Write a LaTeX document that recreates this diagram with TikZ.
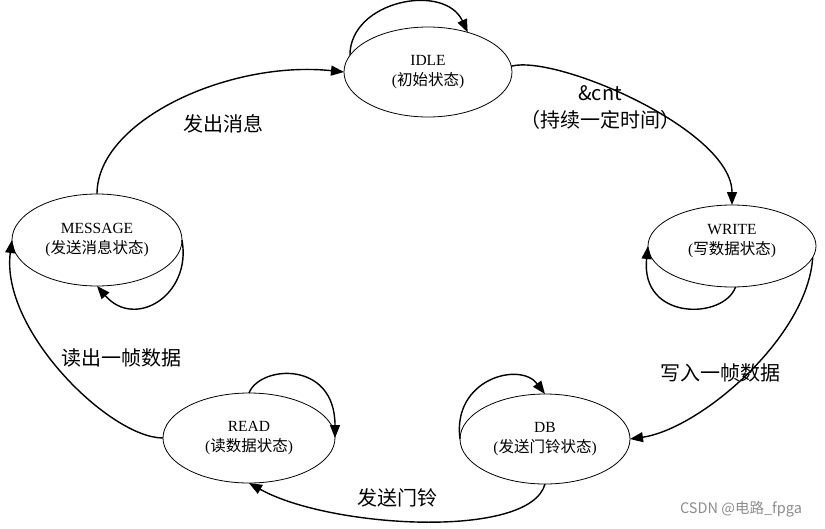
\documentclass[tikz,border=0pt]{standalone}
\usepackage{fontspec}
\setmainfont{Liberation Serif}
\newfontfamily\cjk{Noto Sans CJK SC}
\usetikzlibrary{shapes.geometric,arrows.meta}
\begin{document}
\begin{tikzpicture}[x=1pt,y=1pt,
  state/.style={draw, ellipse, line width=0.8pt, inner sep=0pt, outer sep=0pt,
    align=center, font=\fontsize{15.5}{20}\selectfont},
  conn/.style={line width=1.4pt, -{Triangle[length=13pt,width=10pt]}},
  lbl/.style={font=\cjk\fontsize{20}{27}\selectfont, align=center, inner sep=0pt},
  wmark/.style={font=\cjk\fontsize{14.5}{18}\selectfont, text=black!45, inner sep=0pt}]
\useasboundingbox (0,0) rectangle (825,-528);
% states
\node[state, minimum width=168pt, minimum height=90pt] (idle) at (428,-72) {IDLE\\({\cjk 初始状态})};
\node[state, minimum width=168pt, minimum height=82pt] (write) at (732,-246) {};
\node[font=\fontsize{15.5}{20}\selectfont, align=center, inner sep=0pt] (writetext) at (732,-241) {WRITE\\({\cjk 写数据状态})};
\node[state, minimum width=170pt, minimum height=90pt] (db) at (545,-439) {DB\\({\cjk 发送门铃状态})};
\node[state, minimum width=172pt, minimum height=90pt] (read) at (249,-438) {READ\\({\cjk 读数据状态})};
\node[state, minimum width=170pt, minimum height=92pt] (msg) at (97,-240) {MESSAGE\\({\cjk 发送消息状态})};
% transitions
\draw[conn] (idle.4) .. controls +(45,12) and +(0,75) .. (write.north);
\draw[conn] (write.-8) .. controls +(-5,-80) and +(70,10) .. (db.east);
\draw[conn] (db.south) .. controls +(-15,-56) and +(80,-45) .. (read.south);
\draw[conn] (read.west) .. controls +(-53,0) and +(-12,-90) .. (msg.west);
\draw[conn] (msg.north) .. controls +(0,74) and +(-114,12) .. (idle.west);
% self loops
\draw[conn] (idle.168) .. controls +(0,55) and +(-23,50) .. (idle.45);
\draw[conn] (msg.east) .. controls +(10,-55) and +(38,-44) .. (msg.south);
\draw[conn] (write.-85) .. controls +(-12,-33) and +(-8,-75) .. (write.west);
\draw[conn] (read.north) .. controls +(11,28) and +(0,78) .. (read.east);
\draw[conn] (db.west) .. controls +(-8,60) and +(-25,33) .. (db.north);
% labels
\node[lbl] (l1) at (223,-124) {发出消息};
\node[lbl] (l2) at (600,-107) {\&cnt\\（持续一定时间）};
\node[lbl] (l3) at (720,-373) {写入一帧数据};
\node[lbl] (l4) at (397,-498) {发送门铃};
\node[lbl] (l5) at (121,-358) {读出一帧数据};
\node[wmark] (wm) at (741,-509) {CSDN @电路\_fpga};
\end{tikzpicture}
\end{document}
